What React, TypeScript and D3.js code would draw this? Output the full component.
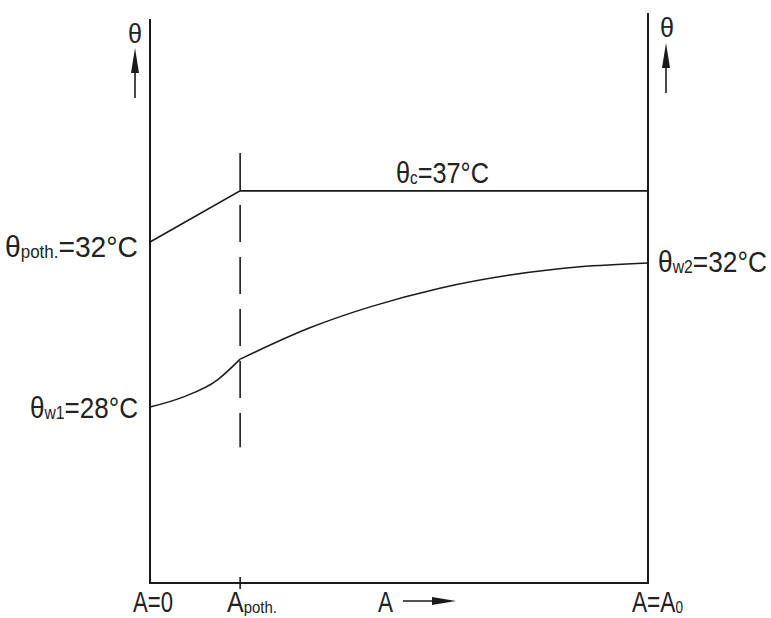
import React from "react";
import * as d3 from "d3";

// Relative area A/A0 (x) and relative height of the temperature (y, 0..100)
const apothX = 0.181;
const condensingLine = [
  { a: 0, v: 62.0 },
  { a: 0.181, v: 71.3 },
  { a: 1, v: 71.3 },
];
const waterCurveA = [
  { a: 0, v: 32.0 },
  { a: 0.066, v: 33.8 },
  { a: 0.135, v: 36.9 },
  { a: 0.181, v: 40.7 },
];
const waterCurveB = [
  { a: 0.181, v: 40.7 },
  { a: 0.321, v: 46.4 },
  { a: 0.442, v: 50.2 },
  { a: 0.582, v: 53.6 },
  { a: 0.723, v: 56.0 },
  { a: 0.863, v: 57.5 },
  { a: 1, v: 58.2 },
];
const dashedRange = [78.2, 24.7];

const W = 771;
const H = 618;
const FONT = "'Liberation Sans Narrow', 'Arial Narrow', 'Liberation Sans', Arial, sans-serif";

type LabelProps = {
  x: number;
  y: number;
  len: number;
  main: string;
  sub?: string;
  rest?: string;
  size?: number;
};

function Label({ x, y, len, main, sub, rest, size = 30 }: LabelProps) {
  return (
    <text
      x={x}
      y={y}
      fontFamily={FONT}
      fontSize={size}
      fill="#222"
      textLength={len}
      lengthAdjust="spacingAndGlyphs"
    >
      <tspan>{main}</tspan>
      {sub ? (
        <tspan fontSize={size * 0.6} dy={1}>
          {sub}
        </tspan>
      ) : null}
      {rest ? (
        <tspan fontSize={size} dy={sub ? -1 : 0}>
          {rest}
        </tspan>
      ) : null}
    </text>
  );
}

export default function App() {
  const x = d3.scaleLinear().domain([0, 1]).range([150, 648]);
  const y = d3.scaleLinear().domain([0, 100]).range([583, 33]);

  const straight = d3
    .line<{ a: number; v: number }>()
    .x((d) => x(d.a))
    .y((d) => y(d.v));
  const smooth = d3
    .line<{ a: number; v: number }>()
    .x((d) => x(d.a))
    .y((d) => y(d.v))
    .curve(d3.curveMonotoneX);

  const left = x(0);
  const right = x(1);
  const bottom = y(0);
  const ax = x(apothX);

  const stroke = "#1a1a1a";

  return (
    <svg
      width={W}
      height={H}
      viewBox={`0 0 ${W} ${H}`}
      style={{ position: "fixed", left: 0, top: 0, background: "#fff" }}
    >
      <rect x={0} y={0} width={W} height={H} fill="#fff" />
      {/* axes */}
      <line x1={left} y1={19} x2={left} y2={bottom} stroke={stroke} strokeWidth={2} />
      <line x1={right} y1={13} x2={right} y2={bottom} stroke={stroke} strokeWidth={2} />
      <line x1={left - 1} y1={bottom} x2={right + 1} y2={bottom} stroke={stroke} strokeWidth={2} />
      <line x1={ax} y1={bottom - 6} x2={ax} y2={bottom + 6} stroke={stroke} strokeWidth={1.6} />

      {/* dashed A_poth line */}
      <line
        x1={ax}
        y1={y(dashedRange[0])}
        x2={ax}
        y2={y(dashedRange[1])}
        stroke={stroke}
        strokeWidth={1.6}
        strokeDasharray="37,15"
      />

      {/* curves */}
      <path d={straight(condensingLine) ?? ""} fill="none" stroke={stroke} strokeWidth={1.6} />
      <path d={smooth(waterCurveA) ?? ""} fill="none" stroke={stroke} strokeWidth={1.5} />
      <path d={smooth(waterCurveB) ?? ""} fill="none" stroke={stroke} strokeWidth={1.5} />

      {/* theta arrows */}
      <line x1={135} y1={98} x2={135} y2={66} stroke={stroke} strokeWidth={1.6} />
      <path d="M135,48 L131,73 L139,73 Z" fill={stroke} />
      <line x1={666} y1={93} x2={666} y2={62} stroke={stroke} strokeWidth={1.6} />
      <path d="M666,43 L662,68 L670,68 Z" fill={stroke} />
      <Label x={128} y={43} len={14} main="θ" size={28} />
      <Label x={660} y={37} len={14} main="θ" size={28} />

      {/* value labels */}
      <Label x={5} y={257} len={133} main="θ" sub="poth." rest="=32°C" />
      <Label x={30} y={418} len={108} main="θ" sub="w1" rest="=28°C" />
      <Label x={396} y={183} len={93} main="θ" sub="c" rest="=37°C" />
      <Label x={658} y={272} len={109} main="θ" sub="w2" rest="=32°C" />

      {/* bottom labels */}
      <Label x={133} y={612} len={40} main="A=0" size={29} />
      <Label x={227} y={612} len={50} main="A" sub="poth." size={29} />
      <Label x={378} y={612} len={15} main="A" size={29} />
      <line x1={403} y1={601} x2={436} y2={601} stroke={stroke} strokeWidth={1.6} />
      <path d="M456,601 L432,597 L432,605 Z" fill={stroke} />
      <Label x={632} y={612} len={51} main="A=A" sub="0" size={29} />
    </svg>
  );
}
